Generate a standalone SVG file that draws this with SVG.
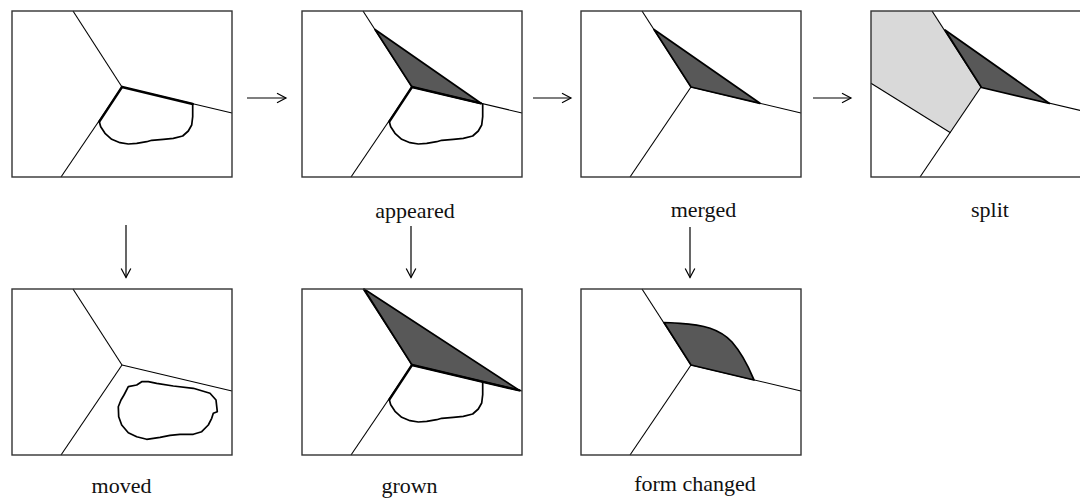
<svg xmlns="http://www.w3.org/2000/svg" xmlns:xlink="http://www.w3.org/1999/xlink" width="1080" height="499" viewBox="0 0 1080 499">
<style>
.frame{fill:none;stroke:#333;stroke-width:1.4}
.ln{stroke:#000;stroke-width:1.1;fill:none}
.thick{stroke:#000;stroke-width:2.4;fill:none;stroke-linecap:round}
.blob{fill:none;stroke:#000;stroke-width:1.7;stroke-linejoin:round;stroke-linecap:round}
.dark{fill:#585858;stroke:#000;stroke-width:1.7;stroke-linejoin:round}
.light{fill:#d9d9d9;stroke:none}
.lbl{font-family:"Liberation Serif","Times New Roman",serif;font-size:22px;fill:#111;text-anchor:middle}
.arr{stroke:#000;stroke-width:1.2;fill:none;marker-end:url(#ah)}
</style>
<defs>
<marker id="ah" markerUnits="userSpaceOnUse" markerWidth="12" markerHeight="12" refX="10" refY="6" orient="auto" overflow="visible">
<path d="M1,1.2 L10,6 L1,10.8" fill="none" stroke="#000" stroke-width="1.2"/>
</marker>
<g id="base">
<line class="ln" x1="73" y1="11" x2="122" y2="87"/>
<line class="ln" x1="122" y1="87" x2="232" y2="113"/>
<line class="ln" x1="122" y1="87" x2="61" y2="177"/>
</g>
<polyline id="blob1" class="blob" points="99.3,121.7 100.7,126.7 105,133.3 111.7,139.3 120,142.7 128.3,144 136.7,143.3 146.7,141.7 151.7,140.3 163.3,139.3 173.3,138.3 182.7,136 188.3,131 191.7,125 192.7,116.7 192.7,104"/>
</defs>

<g id="panel-initial" transform="translate(0,0)">
<use xlink:href="#base"/>
<use xlink:href="#blob1"/>
<line class="thick" x1="122" y1="87" x2="99.3" y2="121.7"/>
<line class="thick" x1="122" y1="87" x2="192.7" y2="104"/>
<rect class="frame" x="12" y="11" width="220" height="166"/>
</g>

<g id="panel-appeared" transform="translate(290,0)">
<use xlink:href="#base"/>
<use xlink:href="#blob1"/>
<polygon class="dark" points="85,29.5 122,87 191,103.3"/>
<line class="thick" x1="122" y1="87" x2="99.3" y2="121.7"/>
<line class="thick" x1="122" y1="87" x2="191" y2="103.3"/>
<rect class="frame" x="12" y="11" width="220" height="166"/>
<text class="lbl" x="125" y="218">appeared</text>
</g>

<g id="panel-merged" transform="translate(569,0)">
<use xlink:href="#base"/>
<polygon class="dark" points="85,29.5 122,87 191,103.3"/>
<rect class="frame" x="12" y="11" width="220" height="166"/>
<text class="lbl" x="134.5" y="217">merged</text>
</g>

<g id="panel-split" transform="translate(859,0)">
<polygon class="light" points="12,11 74,11 86,30 122.5,87.5 91.5,132.7 12,83.3"/>
<line class="ln" x1="12" y1="83.3" x2="91.5" y2="132.7"/>
<use xlink:href="#base"/>
<polygon class="dark" points="86,30 122.5,87.5 190.5,103.5"/>
<rect class="frame" x="12" y="11" width="220" height="166"/>
<text class="lbl" x="131" y="217">split</text>
</g>

<g id="panel-moved" transform="translate(0,278)">
<use xlink:href="#base"/>
<polyline class="blob" points="124,117 128.3,108.7 136.7,107 141.7,103.7 148.3,103.7 156.7,105.3 173.3,108 193.3,110.3 210,115.3 216,122 217.3,133.7 213.3,135.3 211.7,140.3 208.3,147 201.7,153.7 193.3,156.3 180,156.3 170,157.3 160,159.3 146.7,161.3 136.7,158.7 128.3,154.7 121.7,147 118.7,138.7 118.3,128.7 121,122 124,117"/>
<rect class="frame" x="12" y="11" width="220" height="166"/>
<text class="lbl" x="121.5" y="215">moved</text>
</g>

<g id="panel-grown" transform="translate(290,278)">
<use xlink:href="#base"/>
<use xlink:href="#blob1"/>
<polygon class="dark" points="74,11 122,87 229.5,112.4"/>
<line class="thick" x1="122" y1="87" x2="99.3" y2="121.7"/>
<line class="thick" x1="122" y1="87" x2="229.5" y2="112.4"/>
<rect class="frame" x="12" y="11" width="220" height="166"/>
<text class="lbl" x="119.5" y="215">grown</text>
</g>

<g id="panel-form-changed" transform="translate(569,278)">
<use xlink:href="#base"/>
<path class="dark" d="M95,44.5 L122,87 L185,102 C182,95 176,79 163,64 C151,51 134,46.5 111,45.3 Q100,44.7 95,44.5 Z"/>
<rect class="frame" x="12" y="11" width="220" height="166"/>
<text class="lbl" x="126" y="213">form changed</text>
</g>

<g id="connectors">
<line class="arr" x1="247" y1="98" x2="286" y2="98"/>
<line class="arr" x1="533" y1="98" x2="571" y2="98"/>
<line class="arr" x1="813" y1="98" x2="851" y2="98"/>
<line class="arr" x1="126" y1="225" x2="126" y2="277.5"/>
<line class="arr" x1="411" y1="226" x2="411" y2="277.5"/>
<line class="arr" x1="690" y1="227" x2="690" y2="277.5"/>
</g>
</svg>
